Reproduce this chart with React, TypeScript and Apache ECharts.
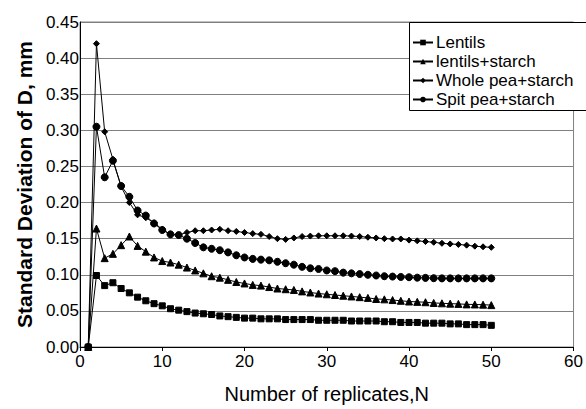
import React, { useEffect, useRef } from "react";
import * as echarts from "echarts";

const replicates: number[] = Array.from({ length: 50 }, (_, i) => i + 1);

const lentils: number[] = [
  0, 0.099, 0.085, 0.089, 0.081, 0.075, 0.069, 0.064, 0.060, 0.057,
  0.053, 0.051, 0.049, 0.047, 0.046, 0.045, 0.043, 0.042, 0.041, 0.040,
  0.040, 0.039, 0.039, 0.039, 0.038, 0.038, 0.038, 0.038, 0.037, 0.037,
  0.037, 0.037, 0.036, 0.036, 0.036, 0.036, 0.035, 0.035, 0.034, 0.034,
  0.034, 0.033, 0.033, 0.033, 0.032, 0.032, 0.031, 0.031, 0.031, 0.030,
];

const lentilsStarch: number[] = [
  0, 0.164, 0.123, 0.129, 0.141, 0.153, 0.140, 0.132, 0.124, 0.119,
  0.117, 0.114, 0.110, 0.106, 0.102, 0.098, 0.096, 0.093, 0.090, 0.088,
  0.086, 0.085, 0.083, 0.081, 0.080, 0.079, 0.077, 0.0755, 0.074, 0.073,
  0.072, 0.071, 0.070, 0.069, 0.068, 0.0665, 0.066, 0.065, 0.064, 0.063,
  0.0625, 0.062, 0.061, 0.0605, 0.060, 0.0597, 0.059, 0.0589, 0.0586, 0.058,
];

const wholePeaStarch: number[] = [
  0, 0.42, 0.298, 0.26, 0.222, 0.200, 0.183, 0.179, 0.172, 0.163,
  0.156, 0.155, 0.1586, 0.161, 0.161, 0.162, 0.163, 0.161, 0.160, 0.1586,
  0.157, 0.156, 0.153, 0.150, 0.149, 0.151, 0.153, 0.1536, 0.154, 0.154,
  0.154, 0.154, 0.1536, 0.153, 0.152, 0.151, 0.150, 0.1496, 0.1496, 0.148,
  0.147, 0.146, 0.145, 0.1436, 0.1427, 0.142, 0.141, 0.1396, 0.1387, 0.138,
];

const spitPeaStarch: number[] = [
  0, 0.305, 0.235, 0.258, 0.223, 0.208, 0.189, 0.182, 0.171, 0.162,
  0.156, 0.155, 0.150, 0.144, 0.138, 0.136, 0.134, 0.131, 0.127, 0.124,
  0.122, 0.121, 0.120, 0.118, 0.116, 0.114, 0.111, 0.109, 0.108, 0.106,
  0.105, 0.103, 0.102, 0.101, 0.100, 0.099, 0.098, 0.0975, 0.097, 0.0966,
  0.096, 0.0957, 0.0953, 0.095, 0.095, 0.095, 0.095, 0.095, 0.095, 0.095,
];

const seriesNames: string[] = ["Lentils", "lentils+starch", "Whole pea+starch", "Spit pea+starch"];
const seriesSymbols: string[] = ["rect", "triangle", "diamond", "circle"];
const seriesSymbolSizes: number[] = [6, 7, 6, 7];

const FONT = "'Liberation Sans', Arial, sans-serif";

export default function App() {
  const ref = useRef<HTMLDivElement>(null);
  useEffect(() => {
    if (!ref.current) return;
    const chart = echarts.init(ref.current, undefined, { renderer: "svg" });
    const allValues = [lentils, lentilsStarch, wholePeaStarch, spitPeaStarch];
    chart.setOption({
      animation: false,
      backgroundColor: "#ffffff",
      textStyle: { fontFamily: FONT, color: "#000" },
      grid: {
        left: 80,
        right: 11,
        top: 22,
        bottom: 53,
        show: true,
        borderColor: "#808080",
        borderWidth: 1,
        containLabel: false,
      },
      xAxis: {
        type: "value",
        min: 0,
        max: 60,
        interval: 10,
        name: "Number of replicates,N",
        nameLocation: "middle",
        nameGap: 37,
        nameTextStyle: { fontSize: 20, fontFamily: FONT, color: "#000" },
        axisLine: { show: true, lineStyle: { color: "#000", width: 1 } },
        axisTick: { show: true, length: 4, lineStyle: { color: "#000" } },
        axisLabel: { fontSize: 17, fontFamily: FONT, color: "#000", margin: 6 },
        splitLine: { show: false },
      },
      yAxis: {
        type: "value",
        min: 0,
        max: 0.45,
        interval: 0.05,
        name: "Standard Deviation of D, mm",
        nameLocation: "middle",
        nameGap: 44,
        nameTextStyle: { fontSize: 21, fontWeight: "bold", fontFamily: FONT, color: "#000" },
        axisLine: { show: true, lineStyle: { color: "#000", width: 1 } },
        axisTick: { show: false },
        axisLabel: {
          fontSize: 17,
          fontFamily: FONT,
          color: "#000",
          margin: 1,
          formatter: (v: number) => v.toFixed(2),
        },
        splitLine: { show: true, lineStyle: { color: "#808080", width: 1 } },
      },
      legend: {
        orient: "vertical",
        left: 412,
        top: 34,
        padding: 0,
        itemWidth: 20,
        itemHeight: 7,
        itemGap: 2,
        z: 10,
        data: seriesNames,
        textStyle: { fontSize: 17, lineHeight: 17, fontFamily: FONT, color: "#000", padding: [0, 0, 0, -2] },
      },
      graphic: [
        {
          type: "rect",
          z: 5,
          shape: { x: 409.5, y: 22.5, width: 190, height: 88 },
          style: { fill: "#fff", stroke: "#000", lineWidth: 1 },
        },
      ],
      series: seriesNames.map((name, k) => ({
        name,
        type: "line",
        data: replicates.map((n, i) => [n, allValues[k][i]]),
        symbol: seriesSymbols[k],
        symbolSize: seriesSymbolSizes[k],
        showSymbol: true,
        lineStyle: { color: "#000", width: 1 },
        itemStyle: { color: "#000", borderColor: "#000" },
        z: 3,
      })),
    });
    return () => chart.dispose();
  }, []);
  return <div ref={ref} style={{ width: 586, height: 409, position: "absolute", left: 0, top: 0 }} />;
}
